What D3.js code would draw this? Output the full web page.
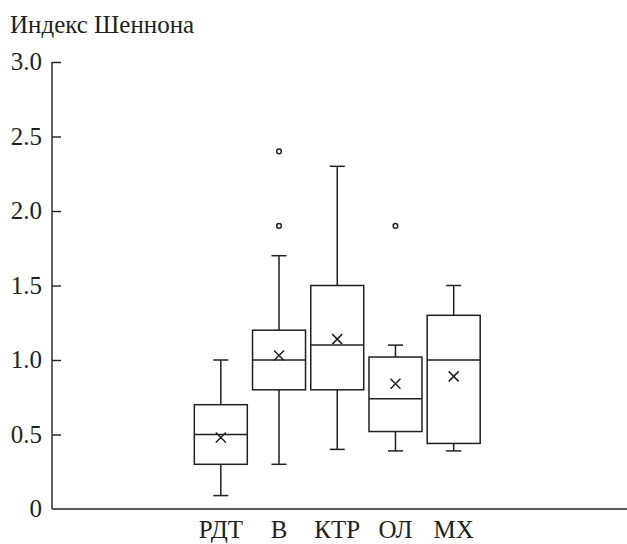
<!DOCTYPE html>
<html><head><meta charset="utf-8">
<script src="https://cdn.jsdelivr.net/npm/d3@7/dist/d3.min.js"></script>
<style>svg text, text { font-family: "Liberation Serif", "Times New Roman", Tinos, serif !important; }</style>
</head><body style="margin:0"><svg id="c" width="627" height="544"></svg>
<script>
const categories = ["РДТ", "В", "КТР", "ОЛ", "МХ"];
const whiskerLow  = [0.09, 0.3, 0.4, 0.39, 0.39];
const q1          = [0.3, 0.8, 0.8, 0.52, 0.44];
const median      = [0.5, 1.0, 1.1, 0.74, 1.0];
const q3          = [0.7, 1.2, 1.5, 1.02, 1.3];
const whiskerHigh = [1.0, 1.7, 2.3, 1.1, 1.5];
const means       = [0.48, 1.03, 1.14, 0.84, 0.89];
const outliers    = [[], [1.9, 2.4], [], [1.9], []];
const yTicks = [0, 0.5, 1.0, 1.5, 2.0, 2.5, 3.0];
const yTitle = "Индекс Шеннона";

const FF = "'Liberation Serif', 'Times New Roman', Tinos, serif";
const svg = d3.select("#c");
const col = "#231f20";
const y = d3.scaleLinear().domain([0, 3]).range([509, 62]);
const x = d3.scaleBand().domain(categories).range([191.7, 482.8]).paddingInner(0.09).paddingOuter(0.045);
const bw = x.bandwidth();
const cx = c => x(c) + bw / 2;

// Y axis
const yAxis = d3.axisRight(y).tickValues(yTicks.filter(v => v > 0)).tickSize(9).tickFormat("");
const ga = svg.append("g").attr("transform", "translate(52,0)").call(yAxis);
ga.select(".domain").attr("stroke", col).attr("stroke-width", 1.4).attr("d", `M0,${y(0)}V${y(3)}`);
ga.selectAll(".tick line").attr("stroke", col).attr("stroke-width", 1.4);

svg.selectAll("text.yl").data(yTicks).join("text").attr("class", "yl")
  .attr("x", 42).attr("y", d => y(d)).attr("dy", "0.33em").attr("text-anchor", "end")
  .style("font-family", FF).attr("fill", col)
  .attr("font-size", 25).text(d => d === 0 ? "0" : d3.format(".1f")(d));

// X axis
svg.append("line").attr("x1", 52).attr("x2", 627).attr("y1", y(0)).attr("y2", y(0))
  .attr("stroke", col).attr("stroke-width", 1.6);
svg.selectAll("text.xl").data(categories).join("text").attr("class", "xl")
  .attr("x", d => cx(d)).attr("y", 538).attr("text-anchor", "middle")
  .style("font-family", FF).attr("fill", col)
  .attr("font-size", 25).text(d => d);

// Title
svg.append("text").attr("x", 10).attr("y", 33).attr("font-size", 25)
  .style("font-family", FF).attr("fill", col).text(yTitle);

// Boxes
const g = svg.append("g").attr("stroke", col).attr("stroke-width", 1.5).attr("fill", "none");
categories.forEach((c, i) => {
  const m = cx(c), cap = 7.5;
  g.append("line").attr("x1", m).attr("x2", m).attr("y1", y(q3[i])).attr("y2", y(whiskerHigh[i]));
  g.append("line").attr("x1", m).attr("x2", m).attr("y1", y(q1[i])).attr("y2", y(whiskerLow[i]));
  g.append("line").attr("x1", m - cap).attr("x2", m + cap).attr("y1", y(whiskerHigh[i])).attr("y2", y(whiskerHigh[i]));
  g.append("line").attr("x1", m - cap).attr("x2", m + cap).attr("y1", y(whiskerLow[i])).attr("y2", y(whiskerLow[i]));
  g.append("rect").attr("x", x(c)).attr("width", bw).attr("y", y(q3[i])).attr("height", y(q1[i]) - y(q3[i])).attr("fill", "#fff");
  g.append("line").attr("x1", x(c)).attr("x2", x(c) + bw).attr("y1", y(median[i])).attr("y2", y(median[i]));
  const my = y(means[i]), s = 5;
  g.append("path").attr("d", `M${m - s},${my - s}L${m + s},${my + s}M${m - s},${my + s}L${m + s},${my - s}`);
  outliers[i].forEach(o => {
    g.append("circle").attr("cx", m).attr("cy", y(o)).attr("r", 2.3).attr("fill", "#fff");
  });
});
</script></body></html>
